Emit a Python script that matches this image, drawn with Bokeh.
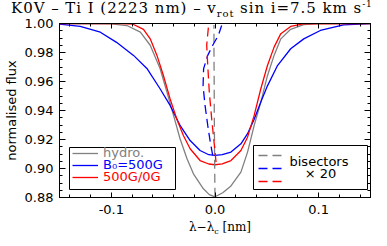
from bokeh.plotting import figure
from bokeh.layouts import column
from bokeh.models import (LinearAxis, FixedTicker, PrintfTickFormatter, Label, Div,
                          Legend, LegendItem, BoxAnnotation, CustomJSTickFormatter)
from bokeh.embed import file_html
from bokeh.resources import INLINE

# ---------------- data ----------------
hydro_x = [-0.15, -0.10, -0.085, -0.072, -0.0625, -0.053, -0.0465, -0.040, -0.0337,
           -0.027, -0.0208, -0.0112, -0.0055, 0.0, 0.0075, 0.0154, 0.025, 0.0314, 0.0378,
           0.0442, 0.0506, 0.057, 0.0635, 0.073, 0.0856, 0.10, 0.15]
hydro_y = [1.0, 0.9998, 0.9986, 0.994, 0.985, 0.969, 0.953, 0.9366, 0.9205,
           0.9067, 0.8963, 0.886, 0.882, 0.8805, 0.8833, 0.888, 0.8975, 0.9113, 0.9297,
           0.9458, 0.964, 0.978, 0.9894, 0.996, 0.9993, 0.9999, 1.0]

b500_x = [-0.15, -0.13, -0.1106, -0.095, -0.0786, -0.0657, -0.053, -0.0433, -0.0337,
          -0.024, -0.0144, -0.006, 0.0, 0.007, 0.0154, 0.025, 0.0314, 0.0378, 0.0442,
          0.0506, 0.0603, 0.073, 0.0856, 0.1016, 0.124, 0.15]
b500_y = [0.9995, 0.998, 0.994, 0.987, 0.978, 0.969, 0.955, 0.9435, 0.9297,
          0.9193, 0.9124, 0.9095, 0.909, 0.9095, 0.9113, 0.917, 0.924, 0.934, 0.9458,
          0.957, 0.971, 0.9826, 0.9894, 0.9952, 0.999, 1.0]

mix_x = [-0.15, -0.09, -0.079, -0.069, -0.0625, -0.056, -0.0497, -0.0433, -0.0368,
         -0.0305, -0.024, -0.0144, -0.006, 0.0, 0.007, 0.0154, 0.025, 0.0314, 0.0378,
         0.0442, 0.0506, 0.057, 0.0635, 0.073, 0.085, 0.15]
mix_y = [1.0, 0.9999, 0.9995, 0.996, 0.9894, 0.978, 0.964, 0.948, 0.934,
         0.9228, 0.9136, 0.9055, 0.9031, 0.9026, 0.9032, 0.9055, 0.9124, 0.9216, 0.9366,
         0.955, 0.971, 0.9837, 0.993, 0.998, 0.9997, 1.0]

# bisectors (as plotted, i.e. already magnified x20)
bis_hydro_y = [0.8805, 0.90, 0.92, 0.94, 0.96, 0.98, 0.999]
bis_hydro_x = [0.0, -0.0003, -0.0005, -0.0007, -0.0008, -0.001, -0.001]

bis_b500_y = [0.909, 0.918, 0.9297, 0.9435, 0.957, 0.9688, 0.978, 0.985, 0.9917, 0.9986]
bis_b500_x = [-0.0022, -0.0045, -0.007, -0.0096, -0.0115, -0.011, -0.007, -0.0022, 0.0032, 0.0064]

bis_mix_y = [0.9044, 0.916, 0.9343, 0.9527, 0.971, 0.985, 0.9986]
bis_mix_x = [0.001, -0.0006, -0.0032, -0.0055, -0.007, -0.008, -0.0062]

x_major = [-0.1, 0.0, 0.1]
x_minor = [-0.14, -0.12, -0.10, -0.08, -0.06, -0.04, -0.02, 0.0, 0.02, 0.04, 0.06,
           0.08, 0.10, 0.12, 0.14]
y_major = [0.88, 0.90, 0.92, 0.94, 0.96, 0.98, 1.00]
y_minor = [0.88 + 0.005 * i for i in range(25)]

legend_labels = ["hydro.", "B\u2080=500G", "500G/0G"]
bis_labels = ["bisectors", "\u00d7 20"]
title_html = ("K0V \u2013 Ti I (2223 nm) \u2013 v<sub style='font-size:10px;line-height:0'>rot</sub>"
              " sin i=7.5 km s<sup style='font-size:9px;line-height:0'>-1</sup>")
xlabel_html = ("\u03bb\u2212\u03bb<sub style='font-size:8px;line-height:0'>c</sub> [nm]")
ylabel = "normalised flux"

# ---------------- layout ----------------
W = 387
TITLE_H = 10          # page rows 0..10 hold the title box (text overflows downward)
XLAB_H = 24           # page rows 222..246 for the x label
PH = 246 - TITLE_H - XLAB_H
FL, FR = 59, 370      # frame left/right (page px)
FT, FB = 23, 197      # frame top/bottom (page px)
X0, X1, Y0, Y1 = -0.15, 0.15, 0.88, 1.0


def dx(px):
    return X0 + (px - FL) * (X1 - X0) / (FR - FL)


def dy(py):
    return Y1 - (py - FT) * (Y1 - Y0) / (FB - FT)


GRAY, BLUE, RED = "#808080", "#0000ff", "#ff0000"

p = figure(width=W, height=PH, x_range=(X0, X1), y_range=(Y0, Y1),
           output_backend="svg", toolbar_location=None,
           min_border_left=FL, min_border_right=W - FR,
           min_border_top=FT - TITLE_H, min_border_bottom=(TITLE_H + PH) - FB,
           margin=0)
p.background_fill_color = "white"
p.border_fill_color = "white"
p.border_fill_alpha = 0.0
p.outline_line_color = "black"
p.outline_line_width = 1
p.xgrid.visible = False
p.ygrid.visible = False


def style_axis(ax, ticker, show_labels, fmt, tin, tmin):
    ax.ticker = ticker
    if show_labels:
        ax.formatter = PrintfTickFormatter(format=fmt)
        ax.major_label_text_font_size = "13px"
    else:
        ax.formatter = CustomJSTickFormatter(code="return ''")
        ax.major_label_text_font_size = "0px"
        ax.major_label_standoff = 0
    ax.axis_line_color = "black"
    ax.axis_line_width = 1
    ax.major_tick_in = tin
    ax.major_tick_out = 0
    ax.minor_tick_in = tmin
    ax.minor_tick_out = 0
    ax.major_tick_line_color = "black"
    ax.minor_tick_line_color = "black"
    ax.major_label_text_font = "DejaVu Sans"
    ax.major_label_text_color = "black"


xt = FixedTicker(ticks=x_major, minor_ticks=x_minor)
yt = FixedTicker(ticks=y_major, minor_ticks=y_minor)

style_axis(p.xaxis[0], xt, True, "%.1f", 5, 3)
p.xaxis[0].major_label_standoff = 7
style_axis(p.yaxis[0], yt, True, "%.2f", 6, 3)
p.yaxis[0].major_label_standoff = 6
p.yaxis[0].axis_label = ylabel
p.yaxis[0].axis_label_text_font = "DejaVu Sans"
p.yaxis[0].axis_label_text_font_size = "13px"
p.yaxis[0].axis_label_text_font_style = "normal"
p.yaxis[0].axis_label_text_color = "black"
p.yaxis[0].axis_label_standoff = 3

top_ax = LinearAxis()
style_axis(top_ax, xt, False, "%.1f", 5, 3)
p.add_layout(top_ax, "above")
right_ax = LinearAxis()
style_axis(right_ax, yt, False, "%.2f", 6, 3)
p.add_layout(right_ax, "right")

# profiles
r_h = p.line(hydro_x, hydro_y, line_color=GRAY, line_width=1.3)
r_b = p.line(b500_x, b500_y, line_color=BLUE, line_width=1.3)
r_m = p.line(mix_x, mix_y, line_color=RED, line_width=1.3)

# bisectors
d_h = p.line(bis_hydro_x, bis_hydro_y, line_color=GRAY, line_width=1.3, line_dash="9 5")
d_b = p.line(bis_b500_x, bis_b500_y, line_color=BLUE, line_width=1.3, line_dash="9 5")
d_m = p.line(bis_mix_x, bis_mix_y, line_color=RED, line_width=1.3, line_dash="9 5")

# legend boxes
p.add_layout(BoxAnnotation(left=dx(69), right=dx(175), top=dy(147), bottom=dy(189),
                           fill_color="white", fill_alpha=1.0,
                           line_color="black", line_width=1, line_alpha=1.0))
p.add_layout(BoxAnnotation(left=dx(253), right=dx(367), top=dy(145), bottom=dy(189),
                           fill_color="white", fill_alpha=1.0,
                           line_color="black", line_width=1, line_alpha=1.0))

# left legend: one legend per entry (coloured texts)
for rend, lab_, col, cy in [(r_h, legend_labels[0], GRAY, 154),
                            (r_b, legend_labels[1], BLUE, 166.3),
                            (r_m, legend_labels[2], RED, 178.3)]:
    lg = Legend(items=[LegendItem(label=lab_, renderers=[rend])],
                location=(72 - FL, FB - (cy + 6)),
                padding=0, margin=0, spacing=0,
                glyph_width=26, glyph_height=12, label_height=12,
                label_standoff=5, border_line_alpha=0, background_fill_alpha=0,
                label_text_color=col, label_text_font="DejaVu Sans",
                label_text_font_size="13px", label_text_line_height=0.9)
    p.add_layout(lg, "center")

# right legend: dashed samples
lg2 = Legend(items=[LegendItem(label=" ", renderers=[d_h]),
                    LegendItem(label=" ", renderers=[d_b]),
                    LegendItem(label=" ", renderers=[d_m])],
             location=(258 - FL, FB - 186), padding=0, margin=0, spacing=3,
             glyph_width=24, glyph_height=10, label_height=10, label_width=1,
             label_standoff=0, border_line_alpha=0, background_fill_alpha=0,
             label_text_font_size="6px")
p.add_layout(lg2, "center")

p.add_layout(Label(x=dx(289), y=dy(160.7), text=bis_labels[0], text_font="DejaVu Sans",
                   text_font_size="13px", text_color="black", text_baseline="middle",
                   text_align="left"))
p.add_layout(Label(x=dx(320), y=dy(173), text=bis_labels[1], text_font="DejaVu Sans",
                   text_font_size="13px", text_color="black", text_baseline="middle",
                   text_align="center"))

# title and x-axis label as HTML (real sub/superscripts)
title_div = Div(
    text=("<span style=\"position:absolute;left:11px;top:1px;white-space:nowrap;"
          "font-family:'DejaVu Serif';font-size:15px;line-height:15px;letter-spacing:0.95px;"
          "color:black\">" + title_html + "</span>"),
    width=W, height=TITLE_H, margin=0, styles={"position": "relative", "overflow": "visible",
                                              "z-index": "2"})
xlab_div = Div(
    text=("<span style=\"position:absolute;left:189px;top:-1px;white-space:nowrap;"
          "font-family:'DejaVu Serif';font-size:12px;line-height:12px;color:black\">"
          + xlabel_html + "</span>"),
    width=W, height=XLAB_H, margin=0, styles={"position": "relative", "overflow": "visible"})

layout = column(title_div, p, xlab_div, spacing=0, margin=0)

open("out.html", "w").write(file_html(layout, INLINE))
